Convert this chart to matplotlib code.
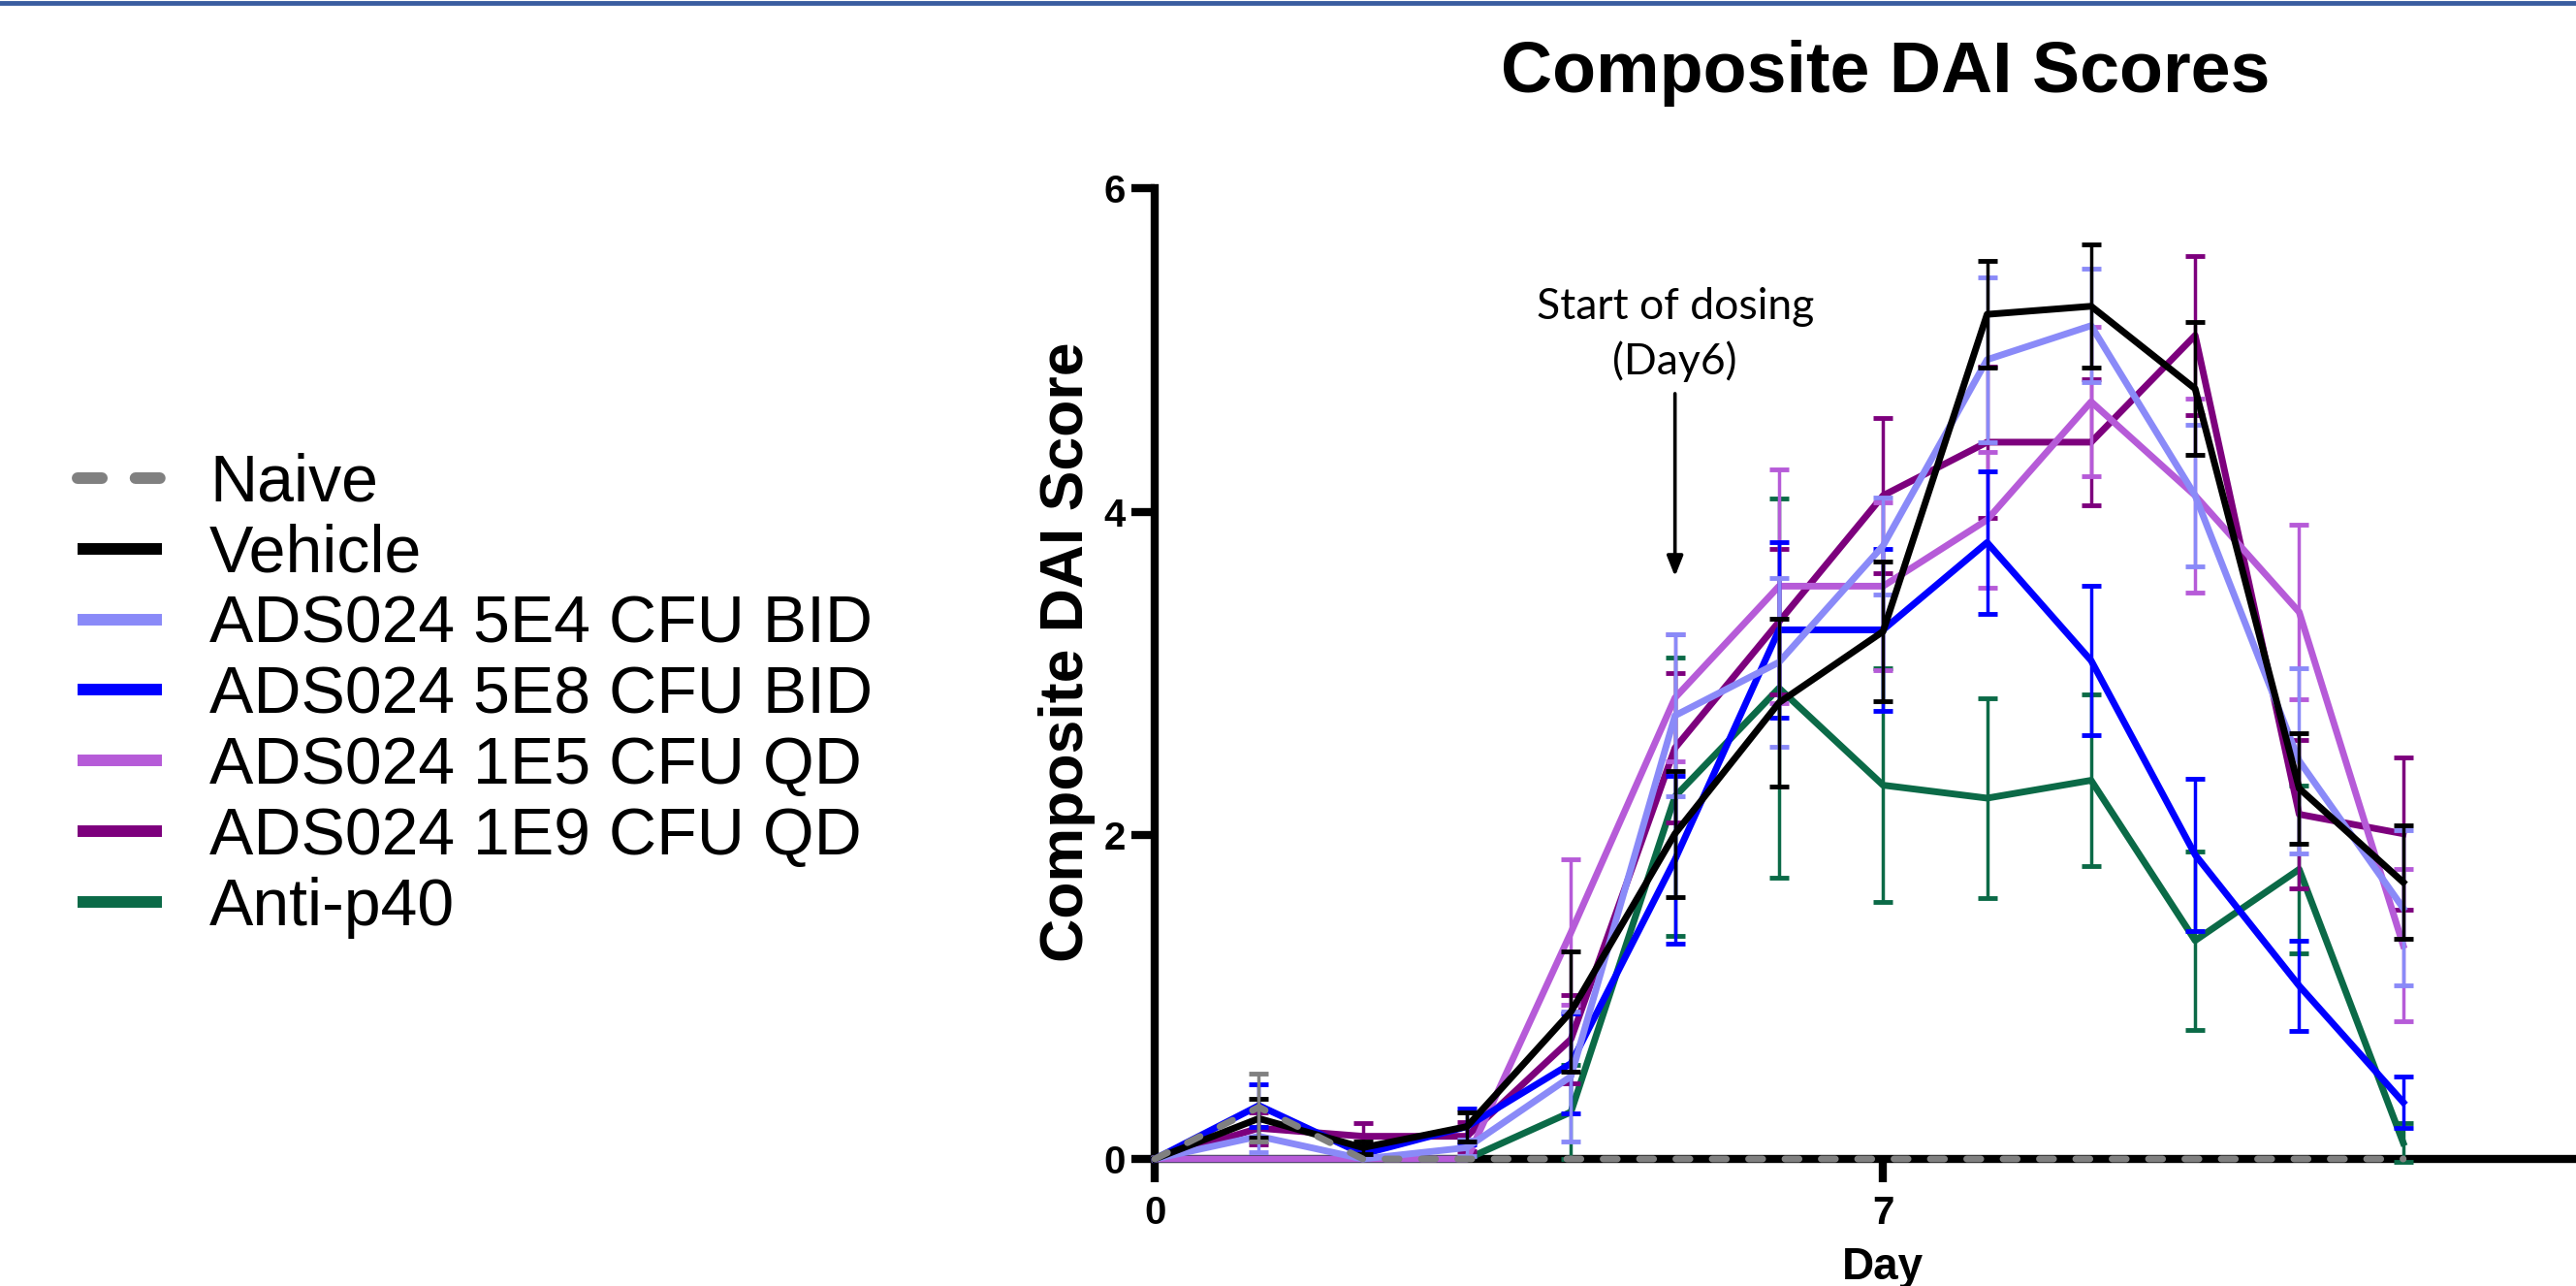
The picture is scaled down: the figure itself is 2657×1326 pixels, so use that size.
import matplotlib
matplotlib.use("Agg")
import matplotlib.pyplot as plt
from matplotlib.lines import Line2D
import numpy as np

plt.rcParams["font.family"] = ["Liberation Sans", "DejaVu Sans"]

days = np.arange(13)

groups = ["Naive", "Vehicle", "ADS024 5E4 CFU BID", "ADS024 5E8 CFU BID",
          "ADS024 1E5 CFU QD", "ADS024 1E9 CFU QD", "Anti-p40"]
colors = ["#808080", "#000000", "#8A8AF8", "#0000FF", "#B65BD8", "#7D007D", "#0B6A47"]

naive = [0, 0.32, 0, 0, 0, 0, 0, 0, 0, 0, 0, 0, 0]
naive_sem = [0, 0.21, 0, 0, 0, 0, 0, 0, 0, 0, 0, 0, 0]
vehicle = [0, 0.25, 0.07, 0.20, 0.91, 2.01, 2.82, 3.26, 5.22, 5.27, 4.76, 2.29, 1.71]
vehicle_sem = [0, 0.12, 0.04, 0.09, 0.37, 0.39, 0.52, 0.43, 0.33, 0.38, 0.41, 0.34, 0.35]
bid_5e4 = [0, 0.14, 0, 0.07, 0.51, 2.74, 3.07, 3.79, 4.94, 5.15, 4.10, 2.46, 1.55]
bid_5e4_sem = [0, 0.10, 0, 0.05, 0.40, 0.50, 0.52, 0.30, 0.51, 0.35, 0.44, 0.57, 0.48]
bid_5e8 = [0, 0.33, 0.03, 0.20, 0.59, 1.85, 3.27, 3.27, 3.81, 3.08, 1.88, 1.07, 0.35]
bid_5e8_sem = [0, 0.13, 0.02, 0.11, 0.31, 0.52, 0.54, 0.50, 0.44, 0.46, 0.47, 0.28, 0.16]
qd_1e5 = [0, 0, 0, 0, 1.40, 2.85, 3.54, 3.54, 3.95, 4.68, 4.10, 3.38, 1.32]
qd_1e5_sem = [0, 0, 0, 0, 0.45, 0.39, 0.72, 0.52, 0.42, 0.46, 0.60, 0.54, 0.47]
qd_1e9 = [0, 0.19, 0.14, 0.14, 0.74, 2.54, 3.32, 4.10, 4.43, 4.43, 5.09, 2.13, 2.01]
qd_1e9_sem = [0, 0.10, 0.08, 0.09, 0.27, 0.46, 0.45, 0.48, 0.47, 0.39, 0.49, 0.46, 0.47]
anti_p40 = [0, 0, 0, 0, 0.29, 2.24, 2.91, 2.31, 2.23, 2.34, 1.35, 1.79, 0.10]
anti_p40_sem = [0, 0, 0, 0, 0.29, 0.86, 1.17, 0.72, 0.62, 0.53, 0.55, 0.52, 0.12]

means = [naive, vehicle, bid_5e4, bid_5e8, qd_1e5, qd_1e9, anti_p40]
sems = [naive_sem, vehicle_sem, bid_5e4_sem, bid_5e8_sem, qd_1e5_sem, qd_1e9_sem, anti_p40_sem]
# drawing order (bottom to top)
zorders = [3.6, 3.5, 3.4, 3.3, 3.2, 3.1, 3.0]

fig = plt.figure(figsize=(26.57, 13.26), dpi=100)
ax = fig.add_axes([0.4483, 0.0988, 0.5654, 0.7549])

for name, c, m, s, z in zip(groups, colors, means, sems, zorders):
    m = np.array(m)
    s = np.array(s)
    sel = s > 0
    ax.errorbar(days[sel], m[sel], yerr=s[sel], fmt="none", ecolor=c,
                elinewidth=2.5, capsize=7.5, capthick=3.5, clip_on=False, zorder=z)
    if name == "Naive":
        ax.plot(days, m, color=c, lw=5.0, dashes=(2.1, 3.3), dash_capstyle="round",
                clip_on=False, zorder=z)
    else:
        ax.plot(days, m, color=c, lw=5.0, clip_on=False, zorder=z)

ax.set_xlim(0, 14)
ax.set_ylim(0, 6)
ax.set_xticks([0, 7])
ax.set_yticks([0, 2, 4, 6])
for side in ["top", "right"]:
    ax.spines[side].set_visible(False)
for side in ["left", "bottom"]:
    ax.spines[side].set_linewidth(6)
ax.tick_params(width=6, length=17, direction="out", labelsize=29)
ax.tick_params(axis="x", pad=10)
ax.tick_params(axis="y", pad=5)
for lab in ax.get_xticklabels() + ax.get_yticklabels():
    lab.set_fontweight("bold")

ax.set_ylabel("Composite DAI Score", fontsize=45, fontweight="bold", va="center")
ax.yaxis.set_label_coords(-0.060, 0.522)

# dosing annotation
ax.text(5, 5.19, "Start of dosing", ha="center", va="baseline", fontsize=32,
        family=["Lato", "DejaVu Sans"])
ax.text(5, 4.85, "(Day6)", ha="center", va="baseline", fontsize=32,
        family=["Lato", "DejaVu Sans"])
ax.annotate("", xy=(5, 3.60), xytext=(5, 4.73),
            arrowprops=dict(arrowstyle="-|>,head_length=0.63,head_width=0.25",
                            lw=2.6, color="black", shrinkA=0, shrinkB=0,
                            mutation_scale=20))

fig.text(0.7320, 0.9284, "Composite DAI Scores", ha="center", va="baseline",
         fontsize=53, fontweight="bold")
fig.text(0.7309, 0.0053, "Day", ha="center", va="baseline",
         fontsize=33, fontweight="bold")

# slide border line at the top
fig.add_artist(Line2D([0, 1], [0.998, 0.998], transform=fig.transFigure,
                      color="#3A5DA0", lw=3.5))

handles = []
for name, c in zip(groups, colors):
    if name == "Naive":
        h = Line2D([], [], color=c, lw=8.6, dashes=(2.1, 2.9), dash_capstyle="round")
    else:
        h = Line2D([], [], color=c, lw=8.6, solid_capstyle="butt")
    handles.append(h)
fig.legend(handles, groups, loc="upper left", bbox_to_anchor=(0.0301, 0.648),
           frameon=False, fontsize=49, handlelength=1.28, handletextpad=0.72,
           labelspacing=0.13, borderpad=0, borderaxespad=0)

fig.savefig("out.png", dpi=100)
